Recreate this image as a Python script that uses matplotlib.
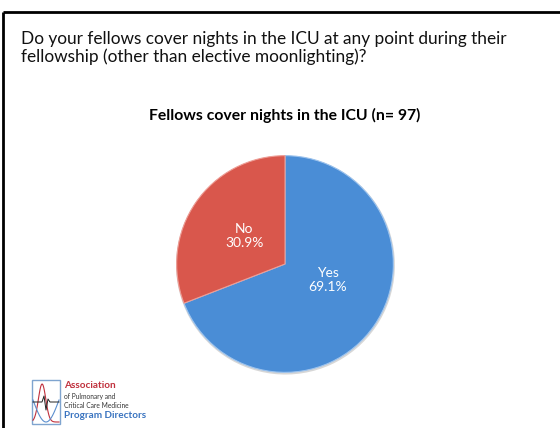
import numpy as np
import matplotlib.pyplot as plt
from matplotlib.patches import Rectangle

# Survey answers
answers = ['Yes', 'No']
shares = [69.1, 30.9]
colors = ['#4a8dd6', '#d9574c']

question = ('Do your fellows cover nights in the ICU at any point during their\n'
            'fellowship (other than elective moonlighting)?')
title = 'Fellows cover nights in the ICU (n= 97)'

plt.rcParams['font.family'] = ['Lato', 'DejaVu Sans']

W, H = 560, 428
fig = plt.figure(figsize=(W / 100, H / 100), dpi=100)
fig.patch.set_facecolor('white')

# full-figure overlay in pixel coordinates
bg = fig.add_axes([0, 0, 1, 1])
bg.set_xlim(0, W)
bg.set_ylim(H, 0)
bg.axis('off')

# slide frame (top and left edges)
bg.plot([3, W], [12, 12], color='black', lw=2, solid_capstyle='butt')
bg.plot([3, 3], [12, H], color='black', lw=2, solid_capstyle='butt')

bg.text(21, 48, question, fontsize=12.4, va='center', ha='left',
        color='#111111', linespacing=1.12)
bg.text(285, 115, title, fontsize=11.3, fontweight='bold', ha='center',
        va='center', color='black')

# pie
cx, cy, r = 285, 264, 110
pax = fig.add_axes([(cx - r) / W, (H - cy - r) / H, 2 * r / W, 2 * r / H])
pax.pie(shares, colors=['#b0b0b0'] * 2, startangle=90, counterclock=False,
        radius=0.995, center=(0.004, -0.01),
        wedgeprops=dict(linewidth=0, alpha=0.5))
wedges, _ = pax.pie(shares, colors=colors, startangle=90, counterclock=False,
                    radius=0.985,
                    wedgeprops=dict(edgecolor='#9cc3ee', linewidth=0.8))
wedges[1].set_edgecolor('#ee9d95')
pax.set_xlim(-1, 1)
pax.set_ylim(-1, 1)
pax.set_aspect('equal')
pax.axis('off')

# labels inside the slices
nudge = {'Yes': (0.02, 0.11), 'No': (0.0, 0.0)}
for w, name, val in zip(wedges, answers, shares):
    ang = np.deg2rad((w.theta1 + w.theta2) / 2)
    x = 0.45 * np.cos(ang) + nudge[name][0]
    y = 0.45 * np.sin(ang) + nudge[name][1]
    pax.text(x, y, f'{name}\n{val:.1f}%', ha='center', va='center',
             color='white', fontsize=10, linespacing=1.2)

# association logo
bg.add_patch(Rectangle((32, 380), 28, 44, fill=False, edgecolor='#7fa4cf', lw=1))
t = np.linspace(0, 1, 60)
bg.plot(33 + 26 * t, 422 - 38 * np.exp(-((t - 0.35) / 0.2) ** 2),
        color='#c0303c', lw=0.8)
bg.plot(33 + 26 * t, 400 + 22 * np.sin(np.pi * t), color='#5b8fcf', lw=0.8)
bg.plot([33, 42, 44, 46, 48, 50, 59], [402, 402, 396, 410, 399, 402, 402],
        color='#222222', lw=0.7)
bg.text(64, 385, 'Association', color='#c0303c', fontsize=7.2,
        fontweight='bold', va='center')
bg.text(64, 397, 'of Pulmonary and', color='#333333', fontsize=4.8, va='center')
bg.text(64, 405, 'Critical Care Medicine', color='#333333', fontsize=4.8,
        va='center')
bg.text(64, 416, 'Program Directors', color='#3a74c0', fontsize=7.2,
        fontweight='bold', va='center')

fig.savefig('out.png', dpi=100)
